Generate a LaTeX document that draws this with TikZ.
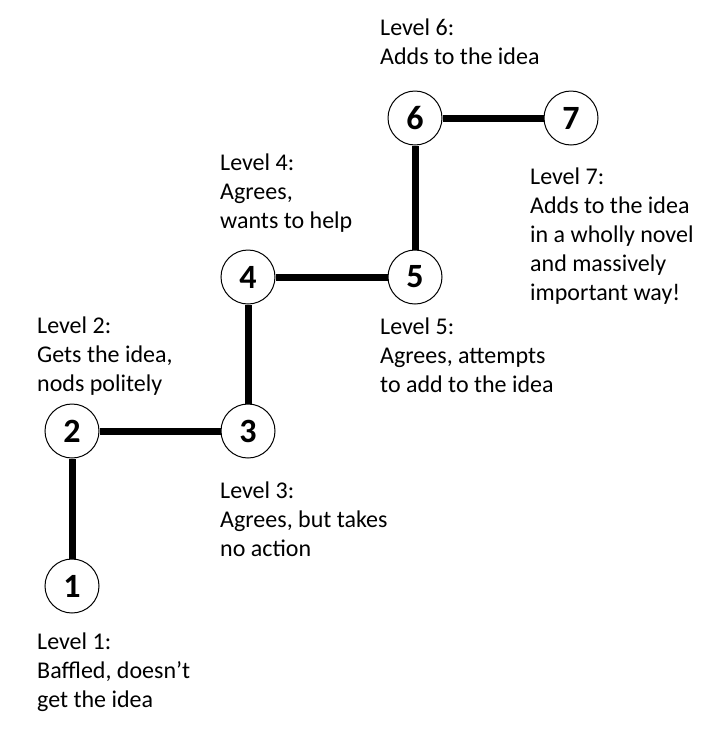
\documentclass[tikz,border=0pt]{standalone}
\usepackage{fontspec}
\setmainfont{Carlito}
\usetikzlibrary{arrows, arrows.meta}

\tikzset{
  lvl/.style={circle, draw, line width=1pt, minimum size=54pt, inner sep=0pt,
    font=\fontsize{34}{36}\selectfont\bfseries},
  lbl/.style={anchor=north west, align=left, inner sep=0pt,
    font=\fontsize{24}{29}\selectfont},
  stair/.style={line width=7pt}
}

\begin{document}
\begin{tikzpicture}[x=1pt,y=-1pt]
\useasboundingbox (0,0) rectangle (709,737);
%\draw[step=50,gray,very thin] (0,0) grid (709,737); %background grid

\node[lvl] (l1) at (72,586) {1};
\node[lvl] (l2) at (72,431) {2};
\node[lvl] (l3) at (248,431) {3};
\node[lvl] (l4) at (248,277) {4};
\node[lvl] (l5) at (415,277) {5};
\node[lvl] (l6) at (415,118) {6};
\node[lvl] (l7) at (571,118) {7};

\draw[stair] (l1) -- (l2);
\draw[stair] (l2) -- (l3);
\draw[stair] (l3) -- (l4);
\draw[stair] (l4) -- (l5);
\draw[stair] (l5) -- (l6);
\draw[stair] (l6) -- (l7);

\node[lbl] (t1) at (37,633) {Level 1:\\Baffled, doesn’t\\get the idea};
\node[lbl] (t2) at (37,317) {Level 2:\\Gets the idea,\\nods politely};
\node[lbl] (t3) at (220,482) {Level 3:\\Agrees, but takes\\no action};
\node[lbl] (t4) at (220,154) {Level 4:\\Agrees,\\wants to help};
\node[lbl] (t5) at (380,318) {Level 5:\\Agrees, attempts\\to add to the idea};
\node[lbl] (t6) at (380,19) {Level 6:\\Adds to the idea};
\node[lbl] (t7) at (530,168) {Level 7:\\Adds to the idea\\in a wholly novel\\and massively\\important way!};

\end{tikzpicture}
\end{document}
